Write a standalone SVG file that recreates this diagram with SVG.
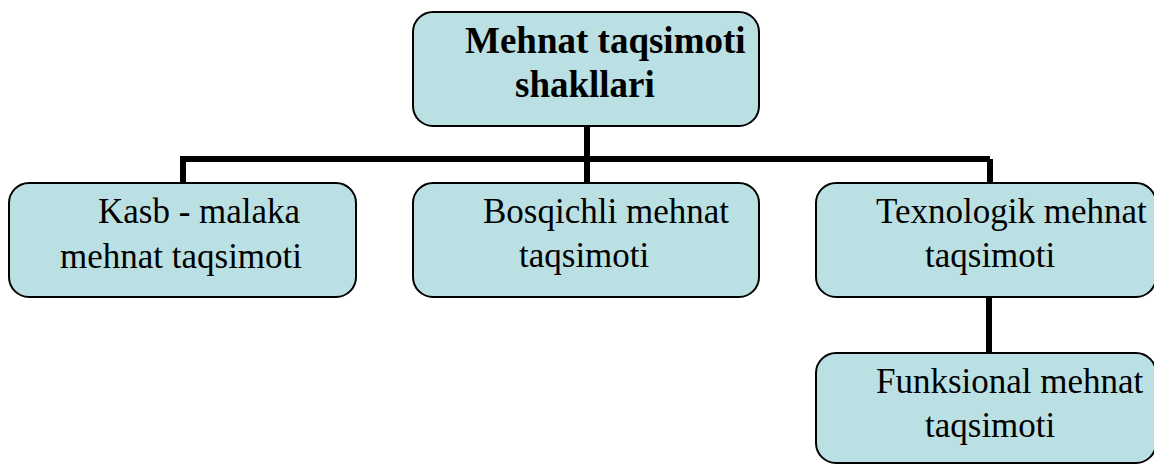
<svg xmlns="http://www.w3.org/2000/svg" width="1154" height="465" viewBox="0 0 1154 465">
<style>
.box{fill:#BBE0E3;stroke:#000;stroke-width:2}
.t{font-family:'Liberation Serif',Tinos,'Times New Roman',Times,serif;font-size:35px;fill:#000}
.b{font-weight:bold;font-size:37px}
.c{stroke:#000;stroke-width:6;fill:none}
</style>
<rect width="1154" height="465" fill="#fff"/>
<g id="connectors">
<path class="c" d="M587 127 V159 M180 159 H990 M183 159 V183 M587 159 V183 M990 159 V183"/>
<path class="c" d="M989 298 V353"/>
</g>
<g id="root">
<rect class="box" x="413" y="12" width="346" height="114" rx="20"/>
<text class="t b" x="465" y="53">Mehnat taqsimoti</text>
<text class="t b" x="515" y="97">shakllari</text>
</g>
<g id="kasb">
<rect class="box" x="9" y="183" width="347" height="114" rx="20"/>
<text class="t" x="98" y="223">Kasb - malaka</text>
<text class="t" x="60" y="268">mehnat taqsimoti</text>
</g>
<g id="bosqichli">
<rect class="box" x="413" y="183" width="346" height="114" rx="20"/>
<text class="t" x="483" y="223">Bosqichli mehnat</text>
<text class="t" x="519" y="267">taqsimoti</text>
</g>
<g id="texnologik">
<rect class="box" x="816" y="183" width="340" height="114" rx="20"/>
<text class="t" x="876" y="223">Texnologik mehnat</text>
<text class="t" x="925" y="267">taqsimoti</text>
</g>
<g id="funksional">
<rect class="box" x="816" y="353" width="340" height="110" rx="20"/>
<text class="t" x="876" y="393">Funksional mehnat</text>
<text class="t" x="925" y="437">taqsimoti</text>
</g>
</svg>
